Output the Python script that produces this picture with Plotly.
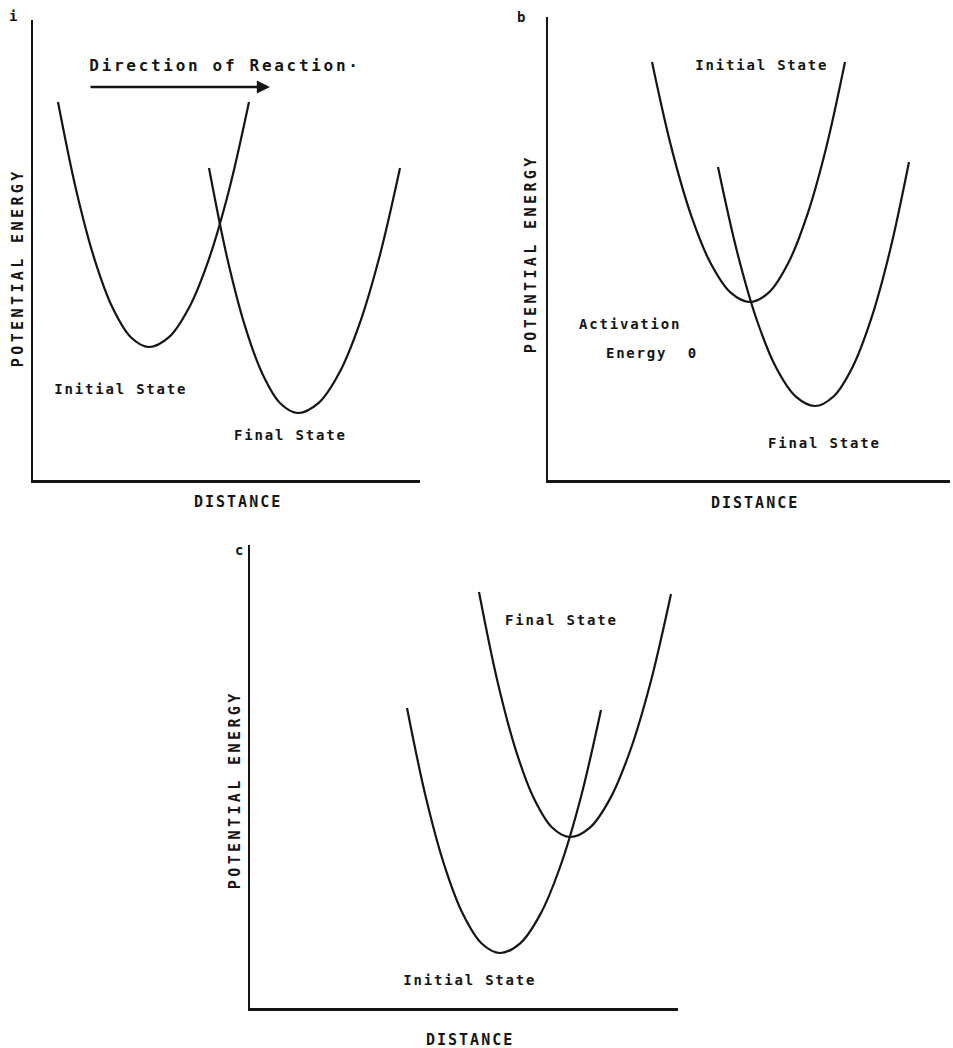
import json
import plotly.graph_objects as go

W, H = 953, 1048

# ---- data (distance, potential energy in panel units) ----
a_initial_x = [25, 43.2, 61.4, 79.6, 97.8, 116, 136, 156, 176, 196, 216]
a_initial_y = [378, 289.8, 221.2, 172.2, 142.8, 133, 142.8, 172.2, 221.2, 289.8, 378]
a_final_x = [176, 193.8, 211.6, 229.4, 247.2, 265, 285.4, 305.8, 326.2, 346.6, 367]
a_final_y = [312, 223.8, 155.2, 106.2, 76.8, 67, 76.8, 106.2, 155.2, 223.8, 312]

b_initial_x = [104, 123.6, 143.2, 162.8, 182.4, 202, 221, 240, 259, 278, 297]
b_initial_y = [418, 331.6, 264.4, 216.4, 187.6, 178, 187.6, 216.4, 264.4, 331.6, 418]
b_final_x = [170, 189.4, 208.8, 228.2, 247.6, 267, 285.8, 304.6, 323.4, 342.2, 361]
b_final_y = [313, 227, 160, 112.2, 83.6, 74, 83.8, 113, 161.8, 230.2, 318]

c_initial_x = [157, 175.6, 194.2, 212.8, 231.4, 250, 270.2, 290.4, 310.6, 330.8, 351]
c_initial_y = [300, 211.8, 143.2, 94.2, 64.8, 55, 64.7, 93.9, 142.5, 210.5, 298]
c_final_x = [229, 247.2, 265.4, 283.6, 301.8, 320, 340.2, 360.4, 380.6, 400.8, 421]
c_final_y = [416, 327.8, 259.2, 210.2, 180.8, 171, 180.7, 209.9, 258.5, 326.5, 414]

arrow_x = [56, 237]
arrow_y = [393, 393]

panel_labels = ["i", "b", "c"]
x_title = "DISTANCE"
y_title = "POTENTIAL ENERGY"

INK = "#151515"
FONT = "DejaVu Sans Mono"

fig = go.Figure()

def curve(x, y, xa, ya):
    fig.add_trace(go.Scatter(x=x, y=y, mode="lines", xaxis=xa, yaxis=ya,
                             line=dict(color=INK, width=2.2, shape="spline", smoothing=1),
                             hoverinfo="skip", showlegend=False))

curve(a_initial_x, a_initial_y, "x", "y")
curve(a_final_x, a_final_y, "x", "y")
curve(b_initial_x, b_initial_y, "x2", "y2")
curve(b_final_x, b_final_y, "x2", "y2")
curve(c_initial_x, c_initial_y, "x3", "y3")
curve(c_final_x, c_final_y, "x3", "y3")

def px_dom_x(a, b):
    return [a / W, b / W]

def px_dom_y(top, bottom):
    return [1 - bottom / H, 1 - top / H]

ax_common = dict(showline=True, linecolor=INK, linewidth=2.5, showgrid=False,
                 zeroline=False, showticklabels=False, ticks="", mirror=False)

fig.update_layout(
    width=W, height=H, margin=dict(l=0, r=0, t=0, b=0),
    paper_bgcolor="white", plot_bgcolor="white", showlegend=False,
    xaxis=dict(domain=px_dom_x(33, 420), range=[0, 387], anchor="y", **ax_common),
    yaxis=dict(domain=px_dom_y(20, 480), range=[0, 460], anchor="x", **ax_common),
    xaxis2=dict(domain=px_dom_x(548, 950), range=[0, 402], anchor="y2", **ax_common),
    yaxis2=dict(domain=px_dom_y(17, 480), range=[0, 463], anchor="x2", **ax_common),
    xaxis3=dict(domain=px_dom_x(250, 678), range=[0, 428], anchor="y3", **ax_common),
    yaxis3=dict(domain=px_dom_y(545, 1008), range=[0, 463], anchor="x3", **ax_common),
)

# arrow "Direction of Reaction"
fig.add_annotation(x=arrow_x[1], y=arrow_y[1], ax=arrow_x[0], ay=arrow_y[0],
                   xref="x", yref="y", axref="x", ayref="y", text="",
                   showarrow=True, arrowhead=2, arrowsize=1.1, arrowwidth=2.4,
                   arrowcolor=INK)

def label(text, cx, cy, size=14, angle=0):
    fig.add_annotation(x=cx / W, y=1 - cy / H, xref="paper", yref="paper",
                       text=text, showarrow=False, textangle=angle,
                       xanchor="center", yanchor="middle",
                       font=dict(family=FONT, size=size, color=INK, weight="bold"))

# panel a
label(panel_labels[0], 14, 16, 14)
label("Direction of Reaction·", 225, 66, 16)
label("Initial State", 121, 389, 14)
label("Final State", 290, 435, 14)
label(x_title, 238, 502, 15)
label(y_title, 18, 268, 15, -90)

# panel b
label(panel_labels[1], 522, 17, 14)
label("Initial State", 762, 65, 14)
label("Activation", 630, 324, 14)
label("Energy  0", 652, 353, 14)
label("Final State", 824, 443, 14)
label(x_title, 755, 503, 15)
label(y_title, 531, 254, 15, -90)

# panel c
label(panel_labels[2], 240, 550, 14)
label("Final State", 561, 620, 14)
label("Initial State", 470, 980, 14)
label(x_title, 470, 1040, 15)
label(y_title, 235, 790, 15, -90)

spacing = {"Direction of Reaction·": 2.7, x_title: 2.0, y_title: 3.4}
post = """
document.body.style.margin = '0';
var sp = %s;
document.querySelectorAll('.annotation-text').forEach(function(t){
  var s = sp[t.textContent];
  if (s === undefined) s = 1.8;
  t.style.letterSpacing = s + 'px';
});
""" % json.dumps(spacing)
fig.write_html("out.html", post_script=post,
               config={"displayModeBar": False, "staticPlot": True})
